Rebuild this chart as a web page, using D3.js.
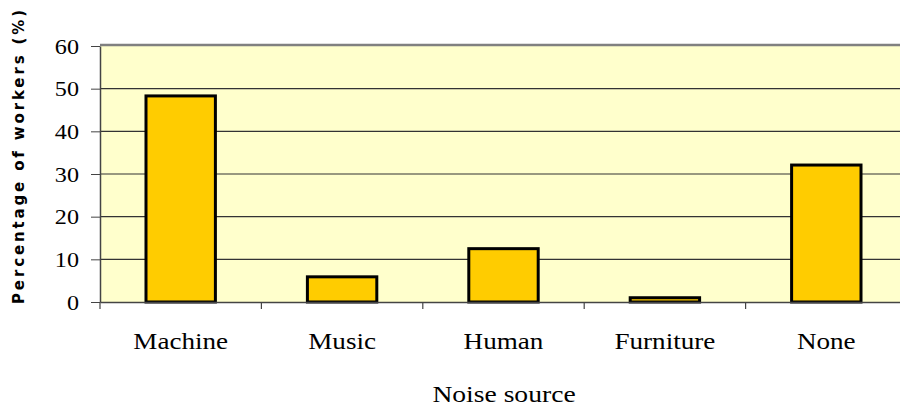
<!DOCTYPE html>
<html>
<head>
<script src="https://d3js.org/d3.v7.min.js"></script>
</head>
<body style="margin:0">
<svg id="fig" width="900" height="411"></svg>
<script>

var categories = ['Machine', 'Music', 'Human', 'Furniture', 'None']
var values = [48.3, 5.9, 12.5, 1.0, 32.1]
var yTicks = [0, 10, 20, 30, 40, 50, 60]

var margin = { left: 100, top: 46, right: 907, bottom: 302 }
var serif = "'Liberation Serif'"

var svg = d3.select('#fig')

var x = d3.scaleBand()
  .domain(categories)
  .range([margin.left, margin.right])
  .paddingInner(0.57)
  .paddingOuter(0.285)

var xOuter = d3.scaleBand()
  .domain(categories)
  .range([margin.left, margin.right])

var y = d3.scaleLinear()
  .domain([0, 60])
  .range([margin.bottom, margin.top])

// plot background
svg.append('rect')
  .attr('x', margin.left)
  .attr('y', margin.top)
  .attr('width', margin.right - margin.left)
  .attr('height', margin.bottom - margin.top)
  .attr('fill', '#ffffcc')

// gridlines
svg.append('g')
  .selectAll('line')
  .data(yTicks.slice(1, -1))
  .enter().append('line')
    .attr('x1', margin.left)
    .attr('x2', margin.right)
    .attr('y1', function (d) { return y(d) })
    .attr('y2', function (d) { return y(d) })
    .attr('stroke', '#333')
    .attr('stroke-width', 1.2)

// top border
svg.append('line')
  .attr('x1', margin.left)
  .attr('x2', margin.right)
  .attr('y1', margin.top - 1)
  .attr('y2', margin.top - 1)
  .attr('stroke', '#808080')
  .attr('stroke-width', 2.5)

// bars
svg.append('g')
  .selectAll('rect')
  .data(values)
  .enter().append('rect')
    .attr('x', function (d, i) { return x(categories[i]) })
    .attr('y', function (d) { return y(d) })
    .attr('width', x.bandwidth())
    .attr('height', function (d) { return y(0) - y(d) })
    .attr('fill', '#ffcc00')
    .attr('stroke', '#000')
    .attr('stroke-width', 3)

// y axis
var yAxis = svg.append('g')
  .attr('transform', 'translate(' + margin.left + ',0)')
  .call(d3.axisLeft(y).tickValues(yTicks).tickSize(9).tickSizeOuter(0))
yAxis.attr('font-family', null).attr('font-size', null)
yAxis.select('.domain').attr('stroke', '#444').attr('stroke-width', 1.5)
yAxis.selectAll('.tick line').attr('stroke', '#444')
yAxis.selectAll('text')
  .attr('x', 0)
  .attr('dy', '0.34em')
  .attr('transform', 'translate(-21,0) scale(1.15,1)')
  .attr('font-family', 'Liberation Serif')
  .style('font-family', serif)
  .style('font-size', '21px')
  .attr('fill', '#000')

// x axis
var xAxis = svg.append('g')
  .attr('transform', 'translate(0,' + margin.bottom + ')')
  .call(d3.axisBottom(xOuter).tickSize(0).tickSizeOuter(0))
xAxis.attr('font-family', null).attr('font-size', null)
xAxis.select('.domain').attr('stroke', '#444').attr('stroke-width', 1.5)
xAxis.selectAll('text')
  .attr('y', 47)
  .attr('dy', 0)
  .attr('transform', 'scale(1.13,1)')
  .style('font-family', serif)
  .style('font-size', '24px')
  .attr('fill', '#000')

// category dividers on the x axis
svg.append('g')
  .selectAll('line')
  .data(categories)
  .enter().append('line')
    .attr('x1', function (d) { return xOuter(d) })
    .attr('x2', function (d) { return xOuter(d) })
    .attr('y1', margin.bottom)
    .attr('y2', margin.bottom + 7)
    .attr('stroke', '#444')
    .attr('stroke-width', 1.2)

// axis titles
svg.append('text')
  .attr('transform', 'translate(504,402) scale(1.2,1)')
  .attr('text-anchor', 'middle')
  .style('font-family', serif)
  .style('font-size', '23px')
  .text('Noise source')

svg.append('text')
  .attr('transform', 'translate(24,157) rotate(-90)')
  .attr('text-anchor', 'middle')
  .style('font-family', "'DejaVu Sans'")
  .style('font-weight', '900')
  .style('font-size', '15px')
  .attr('textLength', 294)
  .attr('lengthAdjust', 'spacing')
  .text('Percentage of workers (%)')

</script>
</body>
</html>
